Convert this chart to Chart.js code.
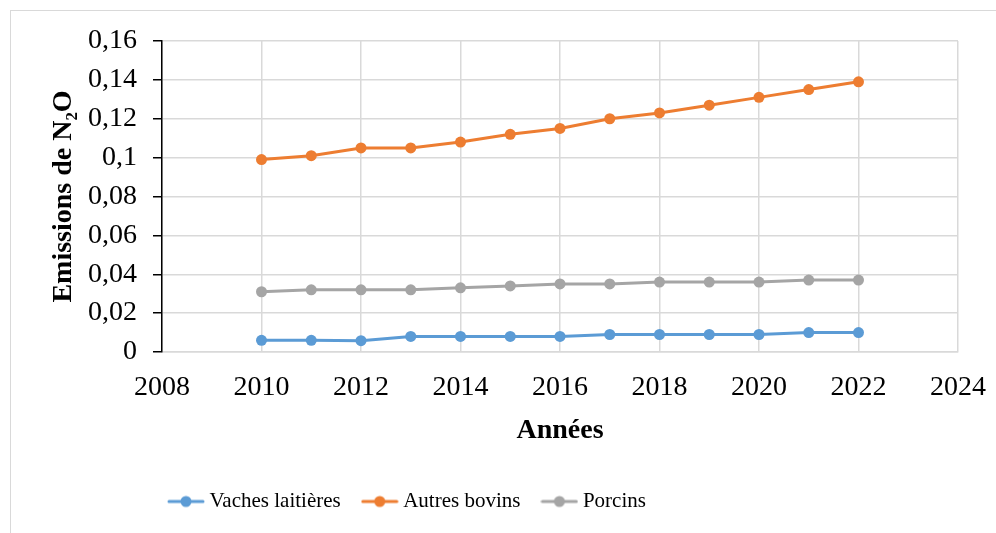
<!DOCTYPE html>
<html>
<head>
<meta charset="utf-8">
<script src="https://cdn.jsdelivr.net/npm/chart.js@4"></script>
<style>
    body { margin: 0; background: #fff; overflow: hidden; }
    .frame { position: absolute; left: 10px; top: 10px; width: 1100px; height: 700px; border: 1px solid #d9d9d9; }
    .wrap { position: absolute; left: 0; top: 0; width: 996px; height: 533px; }
</style>
</head>
<body>
<div class="frame"></div>
<div class="wrap"><canvas id="chart"></canvas></div>
<script>
/* N2O emissions by livestock category */
const years = [2010, 2011, 2012, 2013, 2014, 2015, 2016, 2017, 2018, 2019, 2020, 2021, 2022];
const vachesLaitieres = [0.006, 0.006, 0.0058, 0.008, 0.008, 0.008, 0.008, 0.009, 0.009, 0.009, 0.009, 0.010, 0.010];
const autresBovins = [0.099, 0.101, 0.105, 0.105, 0.108, 0.112, 0.115, 0.120, 0.123, 0.127, 0.131, 0.135, 0.139];
const porcins = [0.031, 0.032, 0.032, 0.032, 0.033, 0.034, 0.035, 0.035, 0.036, 0.036, 0.036, 0.037, 0.037];
const seriesNames = ['Vaches laitières', 'Autres bovins', 'Porcins'];
const seriesColors = ['#5B9BD5', '#ED7D31', '#A5A5A5'];

const FONT = "'Liberation Serif', 'Times New Roman', serif";

// legend marker: short line with a dot in the middle
function legendMarker(color) {
    const c = document.createElement('canvas');
    c.width = 38; c.height = 14;
    const g = c.getContext('2d');
    g.strokeStyle = color; g.lineWidth = 3; g.lineCap = 'round';
    g.beginPath(); g.moveTo(2, 7); g.lineTo(36, 7); g.stroke();
    g.fillStyle = color;
    g.beginPath(); g.arc(19, 7, 5.5, 0, Math.PI * 2); g.fill();
    return c;
}

const toPoints = arr => arr.map((v, i) => ({ x: years[i], y: v }));
const seriesData = [vachesLaitieres, autresBovins, porcins];

const legendShift = {
    id: 'legendShift',
    afterLayout(chart) {
        if (chart.legend) chart.legend.left = 147;
    }
};

new Chart(document.getElementById('chart'), {
    type: 'line',
    data: {
        datasets: seriesNames.map((name, i) => ({
            label: name,
            data: toPoints(seriesData[i]),
            borderColor: seriesColors[i],
            backgroundColor: seriesColors[i],
            borderWidth: 3,
            pointStyle: 'circle',
            pointRadius: 5.5,
            pointHoverRadius: 5.5,
            pointBorderWidth: 0,
            tension: 0
        }))
    },
    options: {
        responsive: true,
        maintainAspectRatio: false,
        animation: false,
        layout: { padding: { left: 14, top: 41, right: 38, bottom: 11 } },
        plugins: {
            legend: {
                position: 'bottom',
                align: 'start',
                labels: {
                    usePointStyle: true,
                    pointStyleWidth: 26,
                    padding: 26,
                    color: '#000',
                    font: { family: FONT, size: 21 },
                    generateLabels(chart) {
                        return chart.data.datasets.map((ds, i) => ({
                            text: ds.label,
                            fillStyle: ds.borderColor,
                            strokeStyle: ds.borderColor,
                            lineWidth: 0,
                            pointStyle: legendMarker(ds.borderColor),
                            datasetIndex: i
                        }));
                    }
                }
            },
            tooltip: { enabled: false }
        },
        scales: {
            x: {
                type: 'linear',
                min: 2008,
                max: 2024,
                ticks: { stepSize: 2, color: '#000', font: { family: FONT, size: 28 }, padding: 19, callback: v => String(v) },
                grid: { color: '#d9d9d9', lineWidth: 1.5, drawTicks: false },
                border: { color: '#d9d9d9', width: 1.5 },
                title: { display: true, text: 'Années', color: '#000', font: { family: FONT, size: 28, weight: 'bold' }, padding: { top: 0, bottom: 17 } },
                afterFit(scale) {
                    scale.height = 113;
                    scale.paddingLeft = 0;
                    scale.paddingRight = 0;
                }
            },
            y: {
                min: 0,
                max: 0.16,
                ticks: {
                    stepSize: 0.02,
                    color: '#000',
                    font: { family: FONT, size: 28 },
                    padding: 16,
                    callback: v => String(Math.round(v * 100) / 100).replace('.', ',')
                },
                grid: { color: '#d9d9d9', lineWidth: 1.5, tickLength: 9, tickColor: '#000', tickWidth: 1.5 },
                border: { color: '#000', width: 1.5 },
                title: { display: true, text: 'Emissions de N₂O', color: '#000', font: { family: FONT, size: 28, weight: 'bold' }, padding: { top: 33, bottom: 0 } },
                afterFit(scale) {
                    scale.width = 148;
                    scale.paddingTop = 0;
                    scale.paddingBottom = 0;
                }
            }
        }
    },
    plugins: [legendShift]
});
</script>
</body>
</html>
